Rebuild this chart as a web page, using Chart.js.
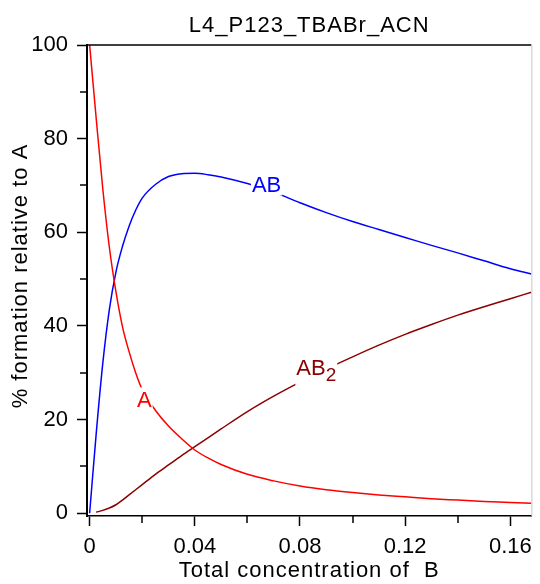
<!DOCTYPE html>
<html>
<head>
<meta charset="utf-8">
<script src="https://cdn.jsdelivr.net/npm/chart.js@4.4.0/dist/chart.umd.min.js"></script>
<style>
  html, body { margin: 0; padding: 0; background: #fff; }
  canvas { display: block; }
</style>
</head>
<body>
<canvas id="speciesChart" width="540" height="584"></canvas>
<script>
// total concentration of B (x) and % formation of each species
const concB  = [0, 0.0025, 0.005, 0.0075, 0.01, 0.0125, 0.015, 0.0175, 0.02, 0.025, 0.03, 0.035, 0.04, 0.045, 0.05, 0.06, 0.07, 0.08, 0.09, 0.10, 0.11, 0.12, 0.13, 0.14, 0.15, 0.16, 0.168];
const pctA   = [100, 84.3, 69.3, 56.8, 47.3, 39.8, 34.5, 30, 26.4, 22, 18.6, 15.9, 13.5, 11.8, 10.4, 8.3, 6.9, 5.8, 5.0, 4.4, 3.9, 3.5, 3.1, 2.8, 2.5, 2.3, 2.1];
const pctAB  = [0, 17, 32, 43.5, 51.5, 57, 61.3, 64.7, 67.3, 70.2, 71.9, 72.5, 72.6, 72.3, 71.8, 70.4, 68.6, 66.3, 64.2, 62.3, 60.6, 58.9, 57.2, 55.6, 53.9, 52.2, 51.1];
const pctAB2 = [null, 0.2, 0.6, 1.1, 1.8, 2.8, 3.9, 5.0, 6.1, 8.3, 10.3, 12.3, 14.2, 16.1, 18.0, 21.7, 25.0, 28.0, 30.8, 33.4, 35.9, 38.2, 40.3, 42.3, 44.1, 45.8, 47.2];

const xTicks = [0, 0.02, 0.04, 0.06, 0.08, 0.10, 0.12, 0.14, 0.16];
const xTickLabels = ['0', '', '0.04', '', '0.08', '', '0.12', '', '0.16'];
const yTicks = [0, 10, 20, 30, 40, 50, 60, 70, 80, 90, 100];
const yTickLabels = ['0', '', '20', '', '40', '', '60', '', '80', '', '100'];

const chartTitle = 'L4_P123_TBABr_ACN';
const xTitle = 'Total concentration of  B';
const yTitle = '% formation relative to A';

// curve labels, placed in data units (centre x, baseline y)
const labelText = ['A', 'AB', 'AB'];
const labelSub  = ['', '', '2'];
const labelX    = [0.0208, 0.0673, 0.0862];
const labelY    = [22.6, 68.7, 29.5];

const FONT = "'Liberation Sans', Arial, sans-serif";
const FS = 22;

function toPoints(ys) {
    return concB.map((x, i) => ({ x: x, y: ys[i] }));
}

const curveLabels = {
    id: 'curveLabels',
    afterDatasetsDraw(chart) {
        const ctx = chart.ctx;
        const xs = chart.scales.x, ys = chart.scales.y;
        ctx.save();
        ctx.textAlign = 'left';
        ctx.textBaseline = 'alphabetic';
        labelText.forEach((t, i) => {
            const mainFont = FS + 'px ' + FONT;
            const subFont = Math.round(FS * 0.85) + 'px ' + FONT;
            ctx.font = mainFont;
            const w1 = ctx.measureText(t).width;
            ctx.font = subFont;
            const w2 = labelSub[i] ? ctx.measureText(labelSub[i]).width : 0;
            const cx = xs.getPixelForValue(labelX[i]);
            const by = ys.getPixelForValue(labelY[i]);
            const left = cx - (w1 + w2) / 2;
            ctx.fillStyle = '#fff';
            ctx.fillRect(left - 1, by - 20, w1 + w2 + 2, labelSub[i] ? 30 : 24);
            ctx.fillStyle = chart.data.datasets[i].borderColor;
            ctx.font = mainFont;
            ctx.fillText(t, left, by);
            if (labelSub[i]) {
                ctx.font = subFont;
                ctx.fillText(labelSub[i], left + w1, by + 6);
            }
        });
        ctx.restore();
    }
};

// frame, minor ticks and the three titles
const frame = {
    id: 'frame',
    afterDraw(chart) {
        const ctx = chart.ctx;
        const a = chart.chartArea;
        ctx.save();
        ctx.strokeStyle = '#000';
        ctx.lineWidth = 1.5;
        ctx.beginPath();
        ctx.moveTo(a.left, a.top);
        ctx.lineTo(a.right, a.top);
        ctx.stroke();
        ctx.strokeStyle = '#c8c8c8';
        ctx.lineWidth = 1;
        ctx.beginPath();
        ctx.moveTo(a.right + 0.5, a.top);
        ctx.lineTo(a.right + 0.5, a.bottom);
        ctx.stroke();

        ctx.strokeStyle = '#000';
        ctx.lineWidth = 1.5;
        xTicks.forEach((v, i) => {
            if (xTickLabels[i] !== '') return;
            const px = Math.round(chart.scales.x.getPixelForValue(v));
            ctx.beginPath();
            ctx.moveTo(px, a.bottom);
            ctx.lineTo(px, a.bottom + 7);
            ctx.stroke();
        });
        yTicks.forEach((v, i) => {
            if (yTickLabels[i] !== '') return;
            const py = Math.round(chart.scales.y.getPixelForValue(v));
            ctx.beginPath();
            ctx.moveTo(a.left - 7, py);
            ctx.lineTo(a.left, py);
            ctx.stroke();
        });

        const cx = (a.left + a.right) / 2;
        ctx.fillStyle = '#000';
        ctx.font = FS + 'px ' + FONT;
        ctx.letterSpacing = '1px';
        ctx.textAlign = 'center';
        ctx.textBaseline = 'alphabetic';
        ctx.fillText(chartTitle, cx, 32);
        ctx.textBaseline = 'middle';
        ctx.fillText(xTitle, cx, 571);
        ctx.translate(21, 276);
        ctx.rotate(-Math.PI / 2);
        ctx.fillText(yTitle, 0, 0);
        ctx.restore();
    }
};

const ctx = document.getElementById('speciesChart').getContext('2d');

new Chart(ctx, {
    type: 'line',
    data: {
        datasets: [
            { label: 'A',   data: toPoints(pctA),   borderColor: '#ff0000' },
            { label: 'AB',  data: toPoints(pctAB),  borderColor: '#0000ff' },
            { label: 'AB2', data: toPoints(pctAB2), borderColor: '#8b0000' }
        ]
    },
    options: {
        responsive: false,
        animation: false,
        layout: { padding: { left: 0, right: 5, top: 45, bottom: 0 } },
        elements: {
            point: { radius: 0 },
            line: { borderWidth: 1.5, cubicInterpolationMode: 'monotone', fill: false }
        },
        plugins: {
            legend: { display: false },
            tooltip: { enabled: false },
            title: { display: false }
        },
        scales: {
            x: {
                type: 'linear',
                min: -0.001,
                max: 0.168,
                afterBuildTicks: ax => { ax.ticks = xTicks.map(v => ({ value: v })); },
                afterFit: ax => { ax.height = 68; },
                grid: {
                    drawOnChartArea: false,
                    tickLength: 10,
                    tickWidth: 1.5,
                    tickColor: c => xTickLabels[c.index] === '' ? 'rgba(0,0,0,0)' : '#000'
                },
                border: { display: true, color: '#000', width: 1.5 },
                ticks: {
                    autoSkip: false,
                    maxRotation: 0,
                    padding: 8,
                    color: '#000',
                    font: { family: FONT, size: FS },
                    callback: (v, i) => xTickLabels[i]
                }
            },
            y: {
                min: -0.6,
                max: 100,
                afterBuildTicks: ax => { ax.ticks = yTicks.map(v => ({ value: v })); },
                afterFit: ax => { ax.width = 87; },
                grid: {
                    drawOnChartArea: false,
                    tickLength: 10,
                    tickWidth: 1.5,
                    tickColor: c => yTickLabels[c.index] === '' ? 'rgba(0,0,0,0)' : '#000'
                },
                border: { display: true, color: '#000', width: 2 },
                ticks: {
                    autoSkip: false,
                    padding: 9,
                    color: '#000',
                    font: { family: FONT, size: FS },
                    callback: (v, i) => yTickLabels[i]
                }
            }
        }
    },
    plugins: [curveLabels, frame]
});
</script>
</body>
</html>
